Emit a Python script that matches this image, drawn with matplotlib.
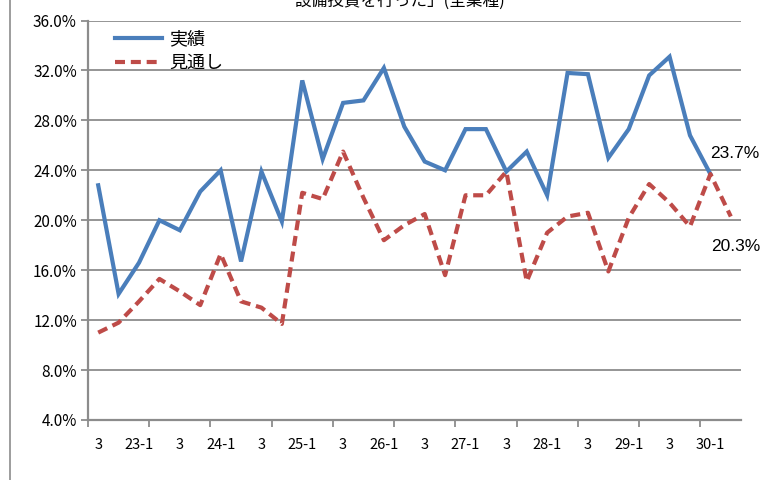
import matplotlib
matplotlib.use("Agg")
import matplotlib.pyplot as plt
import numpy as np

plt.rcParams['font.family'] = ['Noto Sans CJK JP', 'DejaVu Sans']

# ── data ──────────────────────────────────────────────────────────────────
TITLE = "設備投資を行った」(全業種)"
SERIES_ACTUAL = "実績"
SERIES_OUTLOOK = "見通し"

actual = [22.8, 14.1, 16.6, 20.0, 19.2, 22.3, 24.0, 16.7, 23.9, 19.9,
          31.2, 24.9, 29.4, 29.6, 32.2, 27.5, 24.7, 24.0, 27.3, 27.3,
          23.9, 25.5, 22.0, 31.8, 31.7, 25.0, 27.3, 31.6, 33.1, 26.8,
          23.7]
outlook = [11.0, 11.8, 13.5, 15.3, 14.3, 13.2, 17.3, 13.5, 13.0, 11.7,
           22.2, 21.7, 25.5, 21.8, 18.4, 19.6, 20.5, 15.6, 22.0, 22.0,
           23.9, 15.1, 19.0, 20.3, 20.6, 15.9, 20.2, 22.9, 21.4, 19.5,
           23.7, 20.3]
x_labels = ["3", "23-1", "3", "24-1", "3", "25-1", "3", "26-1",
            "3", "27-1", "3", "28-1", "3", "29-1", "3", "30-1"]
y_ticks = [4, 8, 12, 16, 20, 24, 28, 32, 36]

BLUE = "#4a7ebb"
RED = "#be4b48"
GRID = "#8c8c8c"

# ── figure ────────────────────────────────────────────────────────────────
fig = plt.figure(figsize=(7.65, 4.8), dpi=100)
ax = fig.add_axes([88 / 765, 1 - 420 / 480, (741 - 88) / 765, (420 - 20.5) / 480])

xa = np.arange(len(actual))
xo = np.arange(len(outlook))
ax.plot(xa, actual, color=BLUE, lw=3, solid_joinstyle="miter", label=SERIES_ACTUAL, zorder=3)
ax.plot(xo, outlook, color=RED, lw=3, dashes=(2.4, 1.4), label=SERIES_OUTLOOK, zorder=3)

ax.set_xlim(-0.5, len(outlook) - 0.5)
ax.set_ylim(4, 36)
ax.set_yticks(y_ticks)
ax.set_yticklabels([f"{v:.1f}%" for v in y_ticks])
ax.yaxis.grid(True, color=GRID, lw=1.3)
ax.set_axisbelow(True)

# tick marks at category boundaries every 3, labels every 2 categories
ax.set_xticks(np.arange(-0.5, len(outlook) - 0.5, 3))
ax.set_xticklabels([])
ax.set_xticks(np.arange(0, len(outlook), 2), minor=True)
ax.set_xticklabels(x_labels, minor=True)
ax.tick_params(axis="x", which="major", length=5, width=1.3, color=GRID)
ax.tick_params(axis="x", which="minor", length=0, pad=13, labelsize=10.5)
ax.tick_params(axis="y", length=5, width=1.3, color=GRID, labelsize=11, pad=3)

for side in ["top", "right"]:
    ax.spines[side].set_visible(False)
for side in ["left", "bottom"]:
    ax.spines[side].set_color(GRID)
    ax.spines[side].set_linewidth(1.6)

# end-point labels
ax.annotate(f"{actual[-1]:.1f}%", (xa[-1], actual[-1]), xytext=(0, 15),
            textcoords="offset points", ha="left", va="center",
            fontsize=12.5, family=["Liberation Sans", "DejaVu Sans"])
ax.annotate(f"{outlook[-1]:.1f}%", (xo[-1], outlook[-1]), xytext=(-14.5, -21.5),
            textcoords="offset points", ha="left", va="center",
            fontsize=12.5, family=["Liberation Sans", "DejaVu Sans"])

leg = ax.legend(loc="upper left", bbox_to_anchor=(0.03, 0.993), frameon=False,
                fontsize=13, handlelength=2.6, handletextpad=0.4,
                labelspacing=0.3, borderaxespad=0)

# title, mostly cut off at the top edge (as in the reference)
fig.text(400 / 765, 1 - 6 / 480, TITLE, ha="center", va="baseline", fontsize=12)

# thin frame line at the left edge
fig.add_artist(plt.Line2D([10 / 765, 10 / 765], [0, 1], color="#8c8c8c", lw=1.2))

fig.savefig("out.png", dpi=100)
